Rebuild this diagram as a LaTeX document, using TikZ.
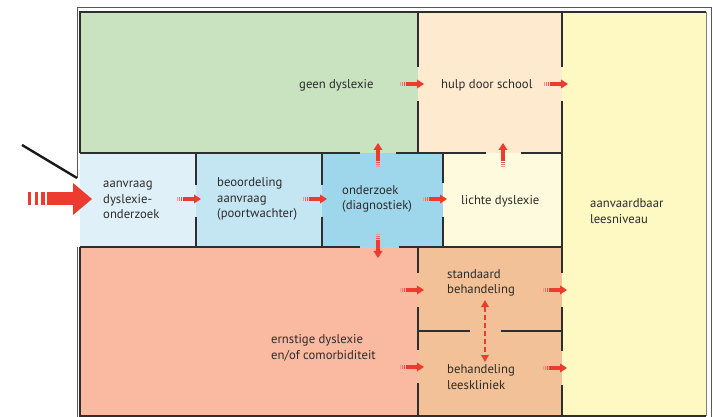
\documentclass[tikz,border=0pt]{standalone}
\usepackage{fontspec}
\setmainfont{PT Sans}
\usetikzlibrary{arrows.meta}

\definecolor{geencol}{HTML}{C9E2C0}
\definecolor{hulpcol}{HTML}{FEEBCF}
\definecolor{okcol}{HTML}{FEF8C3}
\definecolor{aanvcol}{HTML}{DFF0F8}
\definecolor{beoorcol}{HTML}{C4E6F3}
\definecolor{ondercol}{HTML}{9ED7EC}
\definecolor{lichtcol}{HTML}{FEFADD}
\definecolor{ernstcol}{HTML}{F9BAA1}
\definecolor{behcol}{HTML}{F2C197}
\definecolor{flowred}{HTML}{EE3B2F}
\definecolor{wallgray}{HTML}{2E2E2E}
\definecolor{txtgray}{HTML}{2B2B2B}

\begin{document}
\begin{tikzpicture}[x=1pt,y=-1pt]
	\tikzstyle{wall}=[draw=wallgray,line width=1.5pt]
	\tikzstyle{lbl}=[anchor=west,align=left,text=txtgray,inner sep=0,font=\fontsize{12.7}{15.5}\selectfont]
	\tikzstyle{both}=[{Triangle[width=7.5pt,length=7pt]}-{Triangle[width=7.5pt,length=7pt]},draw=flowred,line width=2pt,dash pattern=on 5pt off 3pt]
	\tikzset{
		flow/.pic={
			\fill[flowred!55] (0,-2.2) rectangle (1,2.2);
			\fill[flowred!75] (1.8,-2.2) rectangle (2.8,2.2);
			\fill[flowred!90] (3.6,-2.2) rectangle (4.8,2.2);
			\fill[flowred] (5.6,-2.2) rectangle (17,2.2);
			\fill[flowred] (17,-4.5) -- (24,0) -- (17,4.5) -- cycle;
		},
		bigflow/.pic={
			\fill[flowred] (0,-6.5) rectangle (3,6.5);
			\fill[flowred] (7,-6.5) rectangle (10,6.5);
			\fill[flowred] (13,-6.5) rectangle (17,6.5);
			\fill[flowred] (19,-6.5) rectangle (45,6.5);
			\fill[flowred] (45,-16) -- (64,0) -- (45,16) -- cycle;
		}
	}

	\useasboundingbox (0,0) rectangle (713,417);

	% vlakken
	\fill[geencol] (80,12) rectangle (418,153);
	\fill[hulpcol] (418,12) rectangle (562,153);
	\fill[okcol] (562,12) rectangle (706,416);
	\fill[aanvcol] (80,153) rectangle (196,247);
	\fill[beoorcol] (196,153) rectangle (322,247);
	\fill[ondercol] (322,153) rectangle (443,247);
	\fill[lichtcol] (443,153) rectangle (562,247);
	\fill[ernstcol] (80,247) rectangle (418,416);
	\fill[behcol] (418,247) rectangle (562,416);

	% buitenkader en deur
	\coordinate (hinge) at (77,178);
	\coordinate (doorend) at (22,145);
	\draw[draw=wallgray!80,line width=0.8pt] (hinge) -- (77,7) -- (711,7) -- (711,417);
	\draw[draw=wallgray!80,line width=0.8pt] (77,247) -- (77,417);
	\draw[line width=2.4pt,black!90] (hinge) -- (doorend);

	% muren
	\draw[wall] (80,153) -- (80,12) -- (706,12);
	\draw[wall] (80,247) -- (80,416) -- (706,416);
	\draw[draw=gray,line width=0.8pt] (706,12) -- (706,416);
	\draw[wall] (80,153) -- (360,153);
	\draw[wall] (396,153) -- (486,153);
	\draw[wall] (521,153) -- (562,153);
	\draw[wall] (80,247) -- (360,247);
	\draw[wall] (399,247) -- (562,247);
	\draw[wall] (418,12) -- (418,67);
	\draw[wall] (418,101) -- (418,153);
	\draw[wall] (418,247) -- (418,273);
	\draw[wall] (418,307) -- (418,350);
	\draw[wall] (418,383) -- (418,416);
	\draw[wall] (562,12) -- (562,67);
	\draw[wall] (562,101) -- (562,273);
	\draw[wall] (562,307) -- (562,351);
	\draw[wall] (562,385) -- (562,416);
	\draw[wall] (196,153) -- (196,185);
	\draw[wall] (196,217) -- (196,247);
	\draw[wall] (322,153) -- (322,185);
	\draw[wall] (322,217) -- (322,247);
	\draw[wall] (443,153) -- (443,183);
	\draw[wall] (443,217) -- (443,247);
	\draw[wall] (418,331) -- (470,331);
	\draw[wall] (501,331) -- (562,331);

	% teksten
	\node[lbl] (geen) at (299,85) {geen dyslexie};
	\node[lbl] (hulp) at (441,85) {hulp door school};
	\node[lbl] (aanvraag) at (103,200) {aanvraag\\dyslexie-\\onderzoek};
	\node[lbl] (beoordeling) at (217,199) {beoordeling\\aanvraag\\(poortwachter)};
	\node[lbl] (onderzoek) at (342,199) {onderzoek\\(diagnostiek)};
	\node[lbl] (licht) at (461,201) {lichte dyslexie};
	\node[lbl] (ernstig) at (271,348) {ernstige dyslexie\\en/of comorbiditeit};
	\node[lbl] (standaard) at (447,283) {standaard\\behandeling};
	\node[lbl] (kliniek) at (447,377) {behandeling\\leeskliniek};
	\node[lbl] (niveau) at (590,211) {aanvaardbaar\\leesniveau};

	% pijlen
	\pic at (28,199) {bigflow};
	\pic at (400,84) {flow};
	\pic at (544,84) {flow};
	\pic at (177,199) {flow};
	\pic at (303,199) {flow};
	\pic at (423,199) {flow};
	\pic[rotate=90] at (378,167) {flow};
	\pic[rotate=-90] at (378,234) {flow};
	\pic[rotate=90] at (503,167) {flow};
	\pic at (400,290) {flow};
	\pic at (543,290) {flow};
	\pic at (400,367) {flow};
	\pic at (543,368) {flow};

	\coordinate (dblA) at (485,300);
	\coordinate (dblB) at (485,362);
	\draw[both] (dblA) -- (dblB);
\end{tikzpicture}
\end{document}
